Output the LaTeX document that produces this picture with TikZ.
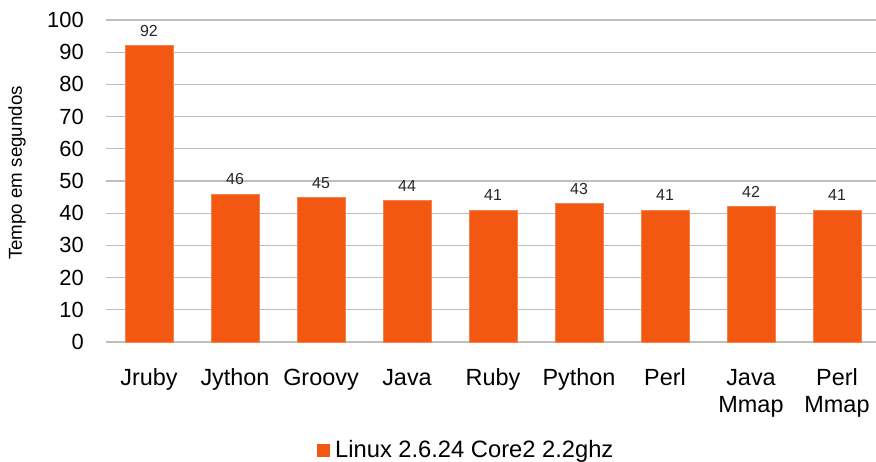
\documentclass[tikz,border=0pt]{standalone}
\usepackage{fontspec}
\setmainfont{Liberation Sans}
\definecolor{barorange}{RGB}{242,88,18}
\definecolor{gridgray}{RGB}{190,190,190}
\begin{document}
\begin{tikzpicture}[x=1bp,y=-1bp,
  gridline/.style={draw=gridgray,line width=1.3bp},
  bar/.style={fill=barorange,draw=barorange!75!white,line width=0.6bp},
  ticklabel/.style={anchor=east,font=\fontsize{22}{24}\selectfont,inner sep=0pt},
  catlabel/.style={anchor=base,font=\fontsize{23.5}{26}\selectfont,inner sep=0pt},
  vallabel/.style={anchor=center,font=\fontsize{16}{18}\selectfont,text=black!85,inner sep=0pt},
  titlelabel/.style={rotate=90,anchor=center,font=\fontsize{18.8}{20}\selectfont,inner sep=0pt},
  legendtext/.style={anchor=base west,font=\fontsize{23.8}{26}\selectfont,inner sep=0pt}]
\useasboundingbox (0,0) rectangle (876,462);
\fill[white] (0,0) rectangle (876,462);
% grid lines and tick labels
\foreach \v in {0,10,...,100}{
  \pgfmathsetmacro{\yy}{342-3.22*\v}
  \draw[gridline] (106,\yy) -- (876,\yy);
  \node[ticklabel] (tick\v) at (84,\yy) {\v};
}
% bars
\foreach \i/\val in {0/92,1/46,2/45,3/44,4/41,5/43,6/41,7/42,8/41}{
  \pgfmathsetmacro{\cx}{149+86*\i}
  \pgfmathsetmacro{\top}{342-3.22*\val}
  \draw[bar] (\cx-24,342) rectangle (\cx+24,\top);
  \node[vallabel] (val\i) at (\cx,\top-14.5) {\val};
}
% category labels
\foreach \i/\lab in {0/Jruby,1/Jython,2/Groovy,3/Java,4/Ruby,5/Python,6/Perl,7/Java,8/Perl}{
  \pgfmathsetmacro{\cx}{149+86*\i}
  \node[catlabel] (cat\i) at (\cx,386) {\lab};
}
\node[catlabel] (cat7b) at (751,412) {Mmap};
\node[catlabel] (cat8b) at (837,412) {Mmap};
% axis title
\node[titlelabel] (ytitle) at (17,173) {Tempo em segundos};
% legend
\fill[barorange] (317,443.5) rectangle (330,457);
\node[legendtext] (legend) at (335,457.5) {Linux 2.6.24 Core2 2.2ghz};
\end{tikzpicture}
\end{document}
